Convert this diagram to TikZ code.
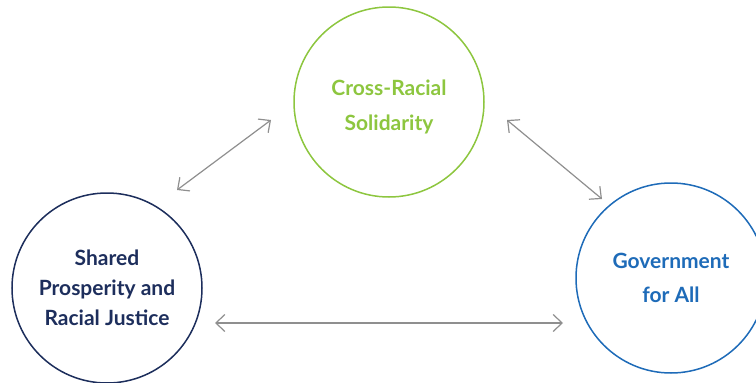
\documentclass[tikz,border=0pt]{standalone}
\usepackage{fontspec}
\setmainfont{Lato}
\usetikzlibrary{arrows.meta}
\definecolor{cgreen}{HTML}{8DC63F}
\definecolor{cnavy}{HTML}{1D2E5C}
\definecolor{cblue}{HTML}{1E6BB8}
\definecolor{cgray}{HTML}{8F8F8F}
\begin{document}
\begin{tikzpicture}[x=1pt,y=-1pt,
  bubble/.style={circle, draw, line width=1.5pt, minimum size=190pt, inner sep=0pt, align=center},
  caption/.style={inner sep=0pt, align=center},
  link/.style={draw=cgray, line width=1.2pt, {Straight Barb[length=9pt,width=17pt]}-{Straight Barb[length=9pt,width=17pt]}}]
\useasboundingbox (0,0) rectangle (756,383);
\node[bubble, draw=cgreen] (top) at (389,102) {};
\node[caption, text=cgreen, font=\fontsize{21}{35}\selectfont\bfseries] (toptext) at (389,107) {Cross-Racial\\Solidarity};
\node[bubble, draw=cnavy, text=cnavy, font=\fontsize{21}{30}\selectfont\bfseries] (left) at (107,288) {Shared\\Prosperity and\\Racial Justice};
\node[bubble, draw=cblue, text=cblue, font=\fontsize{21}{34}\selectfont\bfseries] (right) at (671,278) {Government\\for All};
\coordinate (lt1) at (177,190);
\coordinate (lt2) at (271,120);
\coordinate (tr1) at (507,120);
\coordinate (tr2) at (602,199);
\coordinate (lr1) at (215,323);
\coordinate (lr2) at (563,323);
\draw[link] (lt1) -- (lt2);
\draw[link] (tr1) -- (tr2);
\draw[link] (lr1) -- (lr2);
\end{tikzpicture}
\end{document}
